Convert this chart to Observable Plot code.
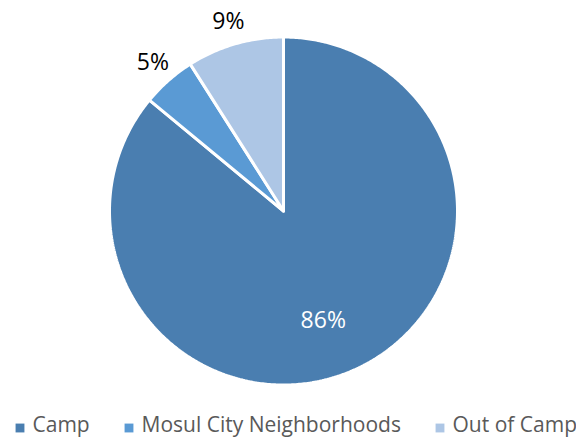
<!DOCTYPE html>
<html><head><meta charset="utf-8">
<script src="https://cdn.jsdelivr.net/npm/d3@7"></script>
<script src="https://cdn.jsdelivr.net/npm/@observablehq/plot@0.6"></script>
<style>body{margin:0;background:#fff}</style>
</head><body><div id="chart"></div>
<script>
const categories = ["Camp", "Mosul City Neighborhoods", "Out of Camp"];
const values = [86, 5, 9];
const labels = ["86%", "5%", "9%"];
const colors = ["#4a7eb0", "#5a9ad4", "#adc6e5"];

const W = 576, H = 437;
const cx = 283, cy = 210.5, R = 174;

const arcs = d3.pie().sort(null).value(d => d)(values);
const wedgePts = [];
arcs.forEach((a, i) => {
  const n = Math.max(8, Math.ceil((a.endAngle - a.startAngle) / 0.01));
  wedgePts.push({cat: categories[i], x: cx, y: cy});
  for (let k = 0; k <= n; k++) {
    const t = a.startAngle + (a.endAngle - a.startAngle) * k / n;
    wedgePts.push({cat: categories[i], x: cx + R * Math.sin(t), y: cy - R * Math.cos(t)});
  }
  wedgePts.push({cat: categories[i], x: cx, y: cy});
});
const labelData = arcs.map((a, i) => {
  const m = (a.startAngle + a.endAngle) / 2;
  const inside = i === 0;
  const rr = inside ? R * 0.665 : R * 1.135;
  return {label: labels[i], x: cx + rr * Math.sin(m), y: cy - rr * Math.cos(m), inside};
});
const legendX = [15, 124, 435];
const legendData = categories.map((c, i) => ({cat: c, x: legendX[i], y: 424.5}));

const chart = Plot.plot({
  width: W, height: H,
  margin: 0,
  x: {domain: [0, W], range: [0, W], axis: null},
  y: {domain: [0, H], range: [0, H], axis: null},
  color: {domain: categories, range: colors},
  style: {fontFamily: "'Open Sans', sans-serif"},
  marks: [
    Plot.line(wedgePts, {x: "x", y: "y", z: "cat", fill: "cat", stroke: "white", strokeWidth: 3, strokeLinejoin: "miter", curve: "linear"}),
    Plot.text(labelData.filter(d => d.inside), {x: "x", y: "y", text: "label", fill: "white", fontSize: 23, dx: -9.5, dy: 4.5}),
    Plot.text(labelData.filter(d => !d.inside), {x: "x", y: "y", text: "label", fill: "black", fontSize: 23}),
    Plot.dot(legendData, {x: d => d.x + 4.5, y: d => d.y + 3, symbol: "square", r: 5, fill: "cat", stroke: null}),
    Plot.text(legendData, {x: d => d.x + 17, y: "y", text: "cat", textAnchor: "start", fill: "#595959", fontSize: 21})
  ]
});
document.getElementById("chart").appendChild(chart);
</script>
</body></html>
